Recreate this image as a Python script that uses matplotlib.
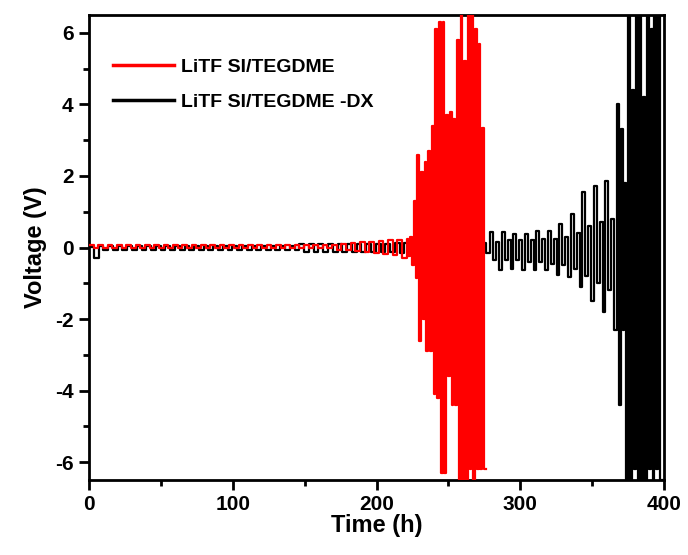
import numpy as np
import matplotlib.pyplot as plt
from matplotlib.ticker import MultipleLocator

plt.rcParams['font.family'] = ['Liberation Sans', 'DejaVu Sans']
plt.rcParams['font.weight'] = 'bold'
plt.rcParams['axes.unicode_minus'] = False

# --- data: per-cycle upper / lower voltage of each cycling segment ---
# LiTFSI/TEGDME (red)
red_low_start, red_low_period = 0.0, 6.5
red_low_hi = [0.06] * 26 + [0.08, 0.1, 0.12, 0.14, 0.16, 0.18, 0.2, 0.22]
red_low_lo = [-0.02] * 26 + [-0.06, -0.08, -0.1, -0.12, -0.15, -0.18, -0.22, -0.28]

red_high_start, red_high_period = 221.0, 2.5
red_high_hi = [0.25, 0.3, 1.3, 2.6, 2.1, 2.4, 2.7, 3.4, 6.1, 6.3, 6.3,
               3.7, 3.8, 3.6, 5.8, 6.5, 5.2, 6.5, 6.5, 6.1, 5.7, 3.35]
red_high_lo = [-0.25, -0.5, -0.85, -2.6, -2.0, -2.9, -2.9, -4.1, -4.2, -6.3, -6.3,
               -3.6, -4.4, -4.4, -6.5, -6.5, -6.5, -6.2, -6.5, -6.2, -6.2, -6.2]

# LiTFSI/TEGDME-DX (black)
blk_low_start, blk_low_period = 0.0, 6.65
blk_low_hi = [0.02] + [0.04] * 21 + [0.1] * 10 + [0.12] * 10
blk_low_lo = [-0.3] + [-0.08] * 21 + [-0.12] * 10 + [-0.15] * 10

blk_mid_start, blk_mid_period = 279.3, 4.0
blk_mid_hi = [0.43, 0.15, 0.43, 0.2, 0.39, 0.2, 0.39, 0.2, 0.47, 0.25, 0.47,
              0.25, 0.67, 0.3, 0.95, 0.4, 1.54, 0.6, 1.73, 0.7, 1.87, 0.8]
blk_mid_lo = [-0.35, -0.64, -0.35, -0.59, -0.35, -0.64, -0.4, -0.64, -0.4, -0.64, -0.45,
              -0.78, -0.5, -0.83, -0.6, -1.1, -0.8, -1.5, -1.0, -1.8, -1.2, -2.3]

blk_high_start, blk_high_period = 367.3, 2.6
blk_high_hi = [4.0, 3.3, 1.8, 6.5, 4.4, 6.5, 6.5, 4.2, 6.5, 6.1, 6.5, 6.5]
blk_high_lo = [-4.4, -2.3, -6.5, -6.5, -6.2, -6.5, -6.5, -6.5, -6.2, -6.5, -6.2, -6.5]

x_ticks = [0, 100, 200, 300, 400]
y_ticks = [-6, -4, -2, 0, 2, 4, 6]


def square_wave(segments):
    t_all, v_all = [], []
    for start, period, hi, lo in segments:
        n = len(hi)
        t0 = start + period * np.arange(n)
        t = np.column_stack([t0, t0 + period / 2]).ravel()
        v = np.column_stack([hi, lo]).ravel()
        t_all.append(t)
        v_all.append(v)
    t = np.concatenate(t_all)
    v = np.concatenate(v_all)
    last = segments[-1]
    t = np.append(t, last[0] + last[1] * len(last[2]))
    v = np.append(v, v[-1])
    return t, v


red_t, red_v = square_wave([(red_low_start, red_low_period, red_low_hi, red_low_lo),
                            (red_high_start, red_high_period, red_high_hi, red_high_lo)])
blk_t, blk_v = square_wave([(blk_low_start, blk_low_period, blk_low_hi, blk_low_lo),
                            (blk_mid_start, blk_mid_period, blk_mid_hi, blk_mid_lo),
                            (blk_high_start, blk_high_period, blk_high_hi, blk_high_lo)])

fig = plt.figure(figsize=(6.88, 5.55), dpi=100)
ax = fig.add_axes([89 / 688, 1 - 480 / 555, 575 / 688, 465 / 555])

ax.plot(blk_t, blk_v, drawstyle='steps-post', color='black', linewidth=1.6,
        label='LiTF SI/TEGDME -DX', zorder=2)
ax.plot(red_t, red_v, drawstyle='steps-post', color='#ff0000', linewidth=1.6,
        label='LiTF SI/TEGDME', zorder=3)

ax.set_xlim(0, 400)
ax.set_ylim(-6.5, 6.5)
ax.set_xticks(x_ticks)
ax.set_yticks(y_ticks)
ax.xaxis.set_minor_locator(MultipleLocator(50))
ax.yaxis.set_minor_locator(MultipleLocator(1))
ax.tick_params(which='major', direction='out', length=7, width=2, labelsize=15, pad=4)
ax.tick_params(which='minor', direction='out', length=4, width=2)
for s in ax.spines.values():
    s.set_linewidth(2)

ax.set_xlabel('Time (h)', fontsize=17, fontweight='bold', labelpad=0)
ax.set_ylabel('Voltage (V)', fontsize=17, fontweight='bold', labelpad=6)

handles, labels = ax.get_legend_handles_labels()
leg = ax.legend(handles[::-1], labels[::-1], loc='upper left', bbox_to_anchor=(0.012, 0.945),
                frameon=False, fontsize=14, handlelength=3.1, handletextpad=0.4,
                labelspacing=0.9, borderaxespad=0.5)
for line in leg.get_lines():
    line.set_linewidth(2.5)

fig.savefig('out.png', dpi=100)
